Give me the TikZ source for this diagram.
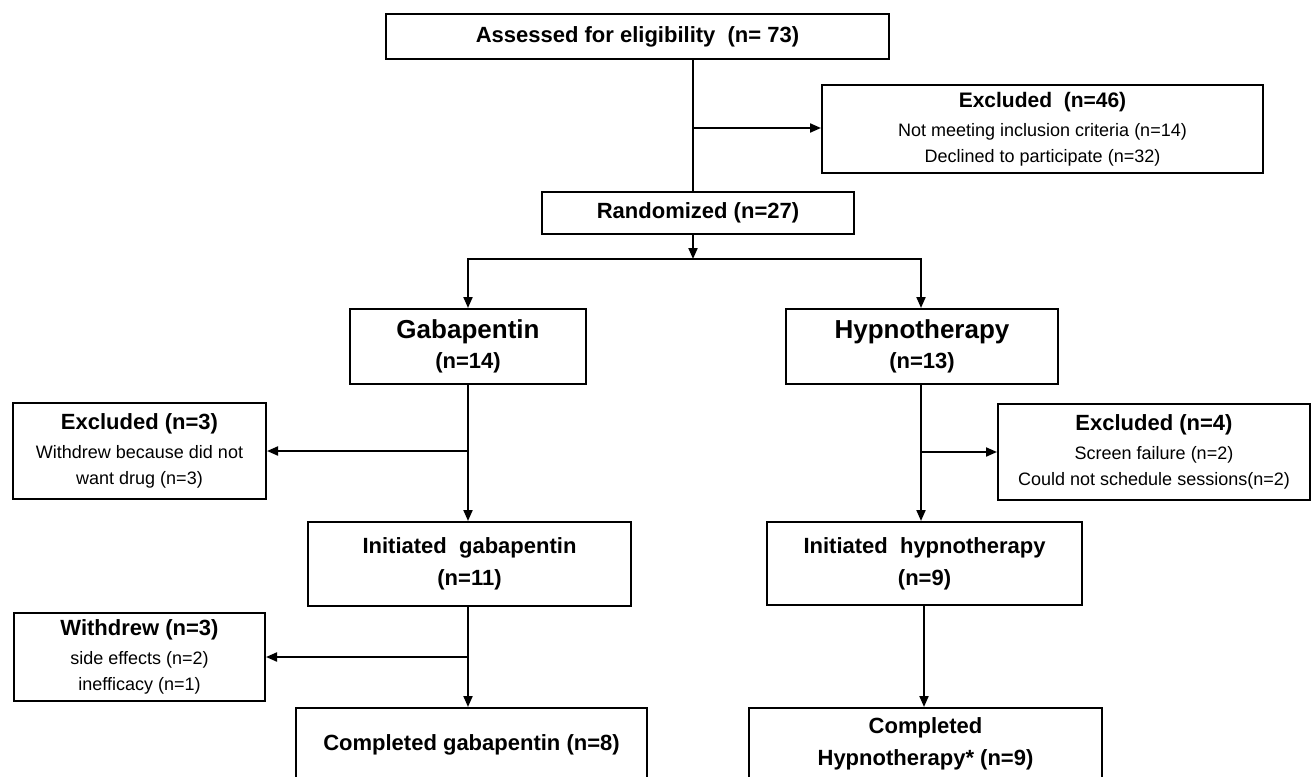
\documentclass[tikz,border=0pt]{standalone}
\usepackage{fontspec}
\setmainfont{Liberation Sans}
\usetikzlibrary{arrows.meta}
\begin{document}
\begin{tikzpicture}[x=1pt,y=-1pt,
  box/.style={draw=black, line width=2pt, inner sep=0pt, align=center, text=black},
  conn/.style={line width=2pt, draw=black, line cap=rect},
  arr/.style={line width=2pt, draw=black, -{Triangle[length=11pt,width=9pt]}},
  bold22/.style={font=\bfseries\fontsize{22}{32}\selectfont},
  reg18/.style={font=\fontsize{18}{26}\selectfont}
]
\useasboundingbox (0,0) rectangle (1311,776);
\clip (0,0) rectangle (1311,776);

% boxes
\node[box, bold22, minimum width=503pt, minimum height=45pt] (assess) at (637.5,36.5) {Assessed for eligibility\ \ (n= 73)};
\node[box, reg18, minimum width=441pt, minimum height=88pt] (excl1) at (1042.5,129)
  {{\bfseries\fontsize{21}{26}\selectfont Excluded\ \ (n=46)}\\[3pt] Not meeting inclusion criteria (n=14)\\ Declined to participate (n=32)};
\node[box, bold22, minimum width=312pt, minimum height=42pt] (rand) at (698,213) {Randomized (n=27)};

\node[box, font=\bfseries\fontsize{22}{30}\selectfont, minimum width=236pt, minimum height=75pt] (gaba) at (468,346.5)
  {{\fontsize{26}{30}\selectfont Gabapentin}\\ (n=14)};
\node[box, font=\bfseries\fontsize{22}{30}\selectfont, minimum width=272pt, minimum height=75pt] (hypno) at (922,346.5)
  {{\fontsize{26}{30}\selectfont Hypnotherapy}\\ (n=13)};

\node[box, reg18, minimum width=253pt, minimum height=96pt] (excl3) at (139.5,451)
  {{\bfseries\fontsize{22}{26}\selectfont Excluded (n=3)}\\[3pt] Withdrew because did not\\ want drug (n=3)};
\node[box, reg18, minimum width=312pt, minimum height=96pt] (excl4) at (1154,452)
  {{\bfseries\fontsize{22}{26}\selectfont Excluded (n=4)}\\[3pt] Screen failure (n=2)\\ Could not schedule sessions(n=2)};

\node[box, bold22, minimum width=323pt, minimum height=84pt] (igaba) at (469.5,564) {Initiated\ \ gabapentin\\ (n=11)};
\node[box, bold22, minimum width=315pt, minimum height=83pt] (ihyp) at (924.5,563.5) {Initiated\ \ hypnotherapy\\ (n=9)};

\node[box, reg18, minimum width=251pt, minimum height=88pt] (withdrew) at (139.5,657)
  {{\bfseries\fontsize{22}{26}\selectfont Withdrew (n=3)}\\[3pt] side effects (n=2)\\ inefficacy (n=1)};

\node[box, bold22, minimum width=351pt, minimum height=74pt] (cgaba) at (471.5,745) {Completed gabapentin (n=8)};
\node[box, bold22, minimum width=353pt, minimum height=72pt] (chyp) at (925.5,744) {Completed\\ Hypnotherapy* (n=9)};

% junction points
\coordinate (b1) at (693,128);
\coordinate (sp) at (693,259);
\coordinate (spg) at (468,259);
\coordinate (sph) at (921,259);
\coordinate (hl) at (924,600);

% connectors
\draw[conn] (assess.south -| b1) -- (rand.north -| b1);
\draw[arr] (b1) -- (excl1.west |- b1);
\draw[arr] (rand.south -| sp) -- (sp);
\draw[conn] (spg) -- (sph);
\draw[arr] (spg) -- (gaba.north -| spg);
\draw[arr] (sph) -- (hypno.north -| sph);

\draw[arr] (gaba.south) -- (igaba.north -| gaba.south);
\draw[arr] (gaba.south |- excl3.east) -- (excl3.east);
\draw[arr] (hypno.south -| sph) -- (ihyp.north -| sph);
\draw[arr] (sph |- excl4.west) -- (excl4.west);

\draw[arr] (igaba.south -| gaba.south) -- (cgaba.north -| gaba.south);
\draw[arr] (gaba.south |- withdrew.east) -- (withdrew.east);
\draw[arr] (ihyp.south -| hl) -- (chyp.north -| hl);
\end{tikzpicture}
\end{document}
